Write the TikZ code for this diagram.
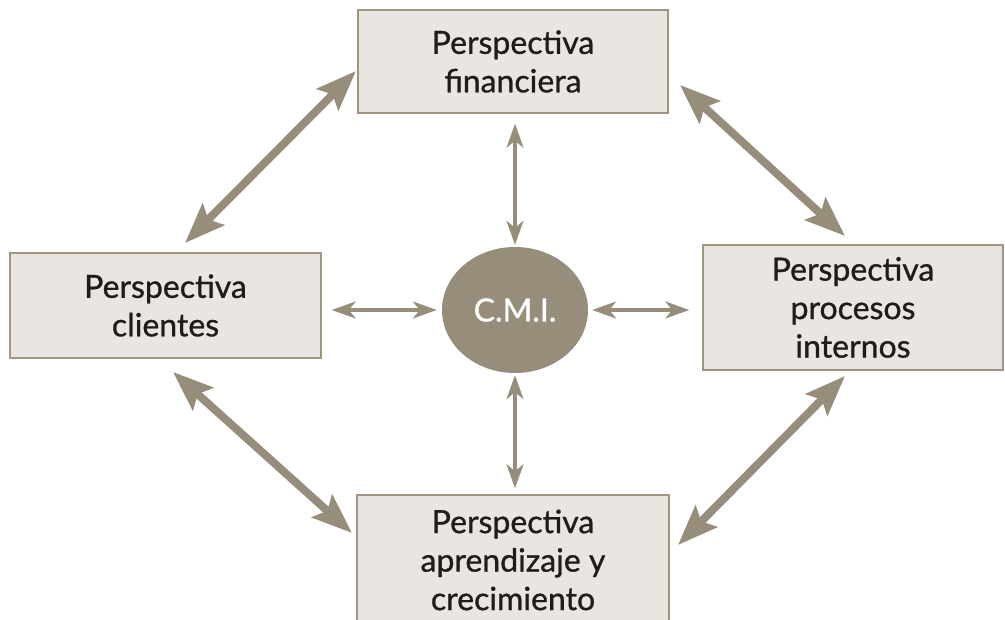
\documentclass[tikz,border=0pt]{standalone}
\usepackage{fontspec}
\setmainfont{Lato}[FakeBold=0.9]
\usetikzlibrary{arrows.meta,shapes.geometric}
\definecolor{arrowc}{HTML}{968E7A}
\definecolor{boxfill}{HTML}{E9E6E1}
\definecolor{boxline}{HTML}{A0967F}
\definecolor{txt}{HTML}{231B1B}
\begin{document}
\begin{tikzpicture}[x=1pt,y=-1pt,
  box/.style={draw=boxline, line width=1.5pt, fill=boxfill, align=center, text=txt,
    font=\fontsize{32}{38.5}\selectfont, inner sep=0pt},
  bigarrow/.style={draw=arrowc, line width=8pt,
    {Stealth[length=40pt,width=30pt,inset=7pt]}-{Stealth[length=40pt,width=30pt,inset=7pt]}},
  smallarrow/.style={draw=arrowc, line width=3.2pt,
    {Stealth[length=24pt,width=17pt,inset=7pt]}-{Stealth[length=24pt,width=17pt,inset=7pt]}}]
\clip (0,0) rectangle (1005,620);
\useasboundingbox (0,0) rectangle (1005,620);
\node[box, minimum width=310pt, minimum height=103pt] (fin) at (513,61.5) {Perspectiva\\financiera};
\node[box, minimum width=311pt, minimum height=105pt] (cli) at (165.5,305.5) {Perspectiva\\clientes};
\node[box, minimum width=300pt, minimum height=125pt] (pro) at (853,307.5) {Perspectiva\\procesos\\internos};
\node[box, minimum width=312pt, minimum height=130pt] (apr) at (513,560) {Perspectiva\\aprendizaje y\\crecimiento};
\node[ellipse, fill=arrowc, minimum width=146pt, minimum height=126pt, inner sep=0pt,
  text=white, font=\fontsize{32}{36}\selectfont] (cmi) at (515,310) {C.M.I.};
% thin arrows
\draw[smallarrow, shorten <=10pt, shorten >=2pt] (cmi.north |- fin.south) -- (cmi.north);
\draw[smallarrow, shorten <=2pt, shorten >=6pt] (cmi.south) -- (cmi.south |- apr.north);
\draw[smallarrow, shorten <=10pt, shorten >=5pt] (cli.east |- cmi.west) -- (cmi.west);
\draw[smallarrow, shorten <=4pt, shorten >=13pt] (cmi.east) -- (cmi.east -| pro.west);
% thick arrows
\coordinate (tlA) at (185,243);
\coordinate (tlB) at (356,71);
\coordinate (trA) at (680,85);
\coordinate (trB) at (845,236);
\coordinate (blA) at (173,372);
\coordinate (blB) at (352,533);
\coordinate (brA) at (678,545);
\coordinate (brB) at (845,376);
\draw[bigarrow] (tlA) -- (tlB);
\draw[bigarrow] (trA) -- (trB);
\draw[bigarrow] (blA) -- (blB);
\draw[bigarrow] (brA) -- (brB);
\end{tikzpicture}
\end{document}
